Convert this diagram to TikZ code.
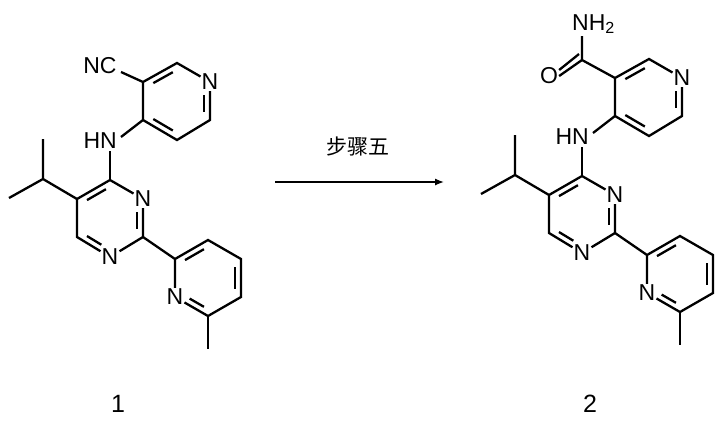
\documentclass[tikz,border=0pt]{standalone}
\usepackage{fontspec}
\setmainfont{Liberation Sans}
\newfontfamily\cjk{Noto Sans CJK SC}
\usetikzlibrary{calc,arrows.meta}
\tikzset{atom/.style={inner sep=1pt,font=\fontsize{23}{24}\selectfont},
  bond/.style={line width=2.3pt},
  lbl/.style={font=\fontsize{25}{26}\selectfont}}
\newcommand\dbl[3]{\draw[bond] ($(#1)!0.15!(#2)!0.18!(#3)$) -- ($(#2)!0.15!(#1)!0.18!(#3)$);}
\newcommand\dbn[3]{\draw[bond] ($(#1)!0.15!(#2)!0.18!(#3)$) -- ($(#2)!0.32!(#1)!0.18!(#3)$);}
\newcommand\core{%
  % top pyridine
  \coordinate (c3) at (143,82); \coordinate (c2) at (177,63);
  \node[atom] (n1) at (210,82) {N};
  \coordinate (c6) at (210,120); \coordinate (c5) at (177,140); \coordinate (c4) at (143,120);
  \coordinate (tc) at (177,101);
  \draw[bond] (c3)--(c2)--(n1)--(c6)--(c5)--(c4)--(c3);
  \dbl{c3}{c2}{tc}\dbn{c6}{n1}{tc}\dbl{c5}{c4}{tc}
  % NH
  \node[atom,anchor=base east,xshift=8pt] (nh) at (110,148) {HN};
  \draw[bond] (c4) -- (121,137);
  \draw[bond] (110,151) -- (110,180);
  % pyrimidine
  \coordinate (p4) at (110,180); \node[atom] (p3) at (143,199) {N};
  \coordinate (p2) at (143,237); \node[atom] (p1) at (110,257) {N};
  \coordinate (p6) at (77,237); \coordinate (p5) at (77,199);
  \coordinate (pc) at (110,218);
  \draw[bond] (p4)--(p3)--(p2)--(p1)--(p6)--(p5)--(p4);
  \dbl{p4}{p5}{pc}\dbn{p2}{p3}{pc}\dbn{p6}{p1}{pc}
  % isopropyl
  \coordinate (ip) at (43,179); \coordinate (m1) at (43,139); \coordinate (m2) at (9,198);
  \draw[bond] (p5)--(ip)--(m1) (ip)--(m2);
  % lower pyridine
  \coordinate (q2) at (175,259); \coordinate (q3) at (208,240); \coordinate (q4) at (241,259);
  \coordinate (q5) at (241,297); \coordinate (q6) at (208,316); \node[atom] (qn) at (175,297) {N};
  \coordinate (qc) at (208,278);
  \draw[bond] (p2)--(q2)--(q3)--(q4)--(q5)--(q6)--(qn)--(q2);
  \dbl{q2}{q3}{qc}\dbl{q4}{q5}{qc}\dbn{q6}{qn}{qc}
  \coordinate (qm) at (208,349); \draw[bond] (q6)--(qm);
}
\begin{document}
\begin{tikzpicture}[x=1pt,y=-1pt]
\useasboundingbox (0,0) rectangle (728,424);
\begin{scope}[name prefix=a-]
  \core
  \node[atom] (cn) at (100,66) {NC};
  \draw[bond] (121,72) -- (c3);
\end{scope}
\begin{scope}[name prefix=b-,shift={(472,-4)}]
  \core
  \coordinate (co) at (110,64);
  \node[atom] (o) at (77,80) {O};
  \node[atom,anchor=base west] (nh2) at (99,34) {NH\textsubscript{2}};
  \draw[bond] (c3)--(co)--(110,40);
  \draw[bond] (co)--(o.east);
  \draw[bond] ($(co)+(-3,-6)$)--($(o.east)+(0,-6)$);
\end{scope}
\node[lbl] (l1) at (118,404) {1};
\node[lbl] (l2) at (590,404) {2};
\coordinate (as) at (275,182); \coordinate (ae) at (444,182);
\draw[line width=1.3pt,-{Latex[length=9pt,width=7pt]}] (as)--(ae);
\node[font=\cjk\fontsize{21}{22}\selectfont] (t) at (358,146) {步骤五};
\end{tikzpicture}
\end{document}
